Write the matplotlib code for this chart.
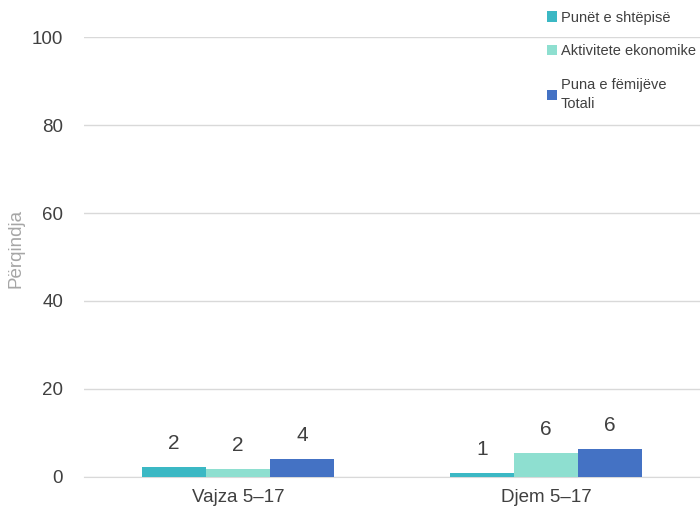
import matplotlib
matplotlib.use("Agg")
from matplotlib import pyplot as plt
import numpy as np

plt.rcParams['font.family'] = ['Liberation Sans', 'DejaVu Sans']

# data
categories = ["Vajza 5–17", "Djem 5–17"]
series_names = ["Punët e shtëpisë", "Aktivitete ekonomike", "Puna e fëmijëve\nTotali"]
punet_shtepise = [2.2, 0.9]
aktivitete_ekonomike = [1.9, 5.5]
puna_femijeve = [4.1, 6.4]
colors = ["#3BB8C4", "#8EDFD0", "#4472C4"]

series = [punet_shtepise, aktivitete_ekonomike, puna_femijeve]

fig = plt.figure(figsize=(7, 5.12), dpi=100)
ax = fig.add_axes([0.12, 0.0684, 0.88, 0.8593])

x = np.arange(len(categories))
w = 0.208
handles = []
for i, vals in enumerate(series):
    pos = x + (i - 1) * w
    b = ax.bar(pos, vals, width=w, color=colors[i], label=series_names[i], zorder=3)
    handles.append(b)
    for p, v in zip(pos, vals):
        ax.annotate("%.0f" % v, (p, v), xytext=(0, 10), textcoords="offset points",
                    ha="center", va="bottom", fontsize=15, color="#404040")

ax.set_xlim(-0.5, 1.5)
ax.set_ylim(0, 100)
ax.set_yticks([0, 20, 40, 60, 80, 100])
ax.set_xticks(x)
ax.set_xticklabels(categories)
ax.grid(axis="y", color="#D9D9D9", linewidth=1, zorder=0)
for s in ["top", "right", "left"]:
    ax.spines[s].set_visible(False)
ax.spines["bottom"].set_color("#D9D9D9")
ax.tick_params(axis="both", length=0, labelsize=13.5, colors="#404040")
ax.tick_params(axis="x", pad=9)
ax.tick_params(axis="y", pad=15)
ax.set_ylabel("Përqindja", color="#A6A6A6", fontsize=13.5, labelpad=2)
ax.yaxis.set_label_coords(-0.097, 0.52)

leg = fig.legend(handles=handles, loc="upper left", bbox_to_anchor=(0.762, 1.005),
                 frameon=False, fontsize=10.5, handlelength=0.7, handleheight=0.7,
                 handletextpad=0.3, labelspacing=1.35, labelcolor="#404040")
for t in leg.get_texts():
    t.set_linespacing(1.5)

fig.savefig("out.png", dpi=100)
